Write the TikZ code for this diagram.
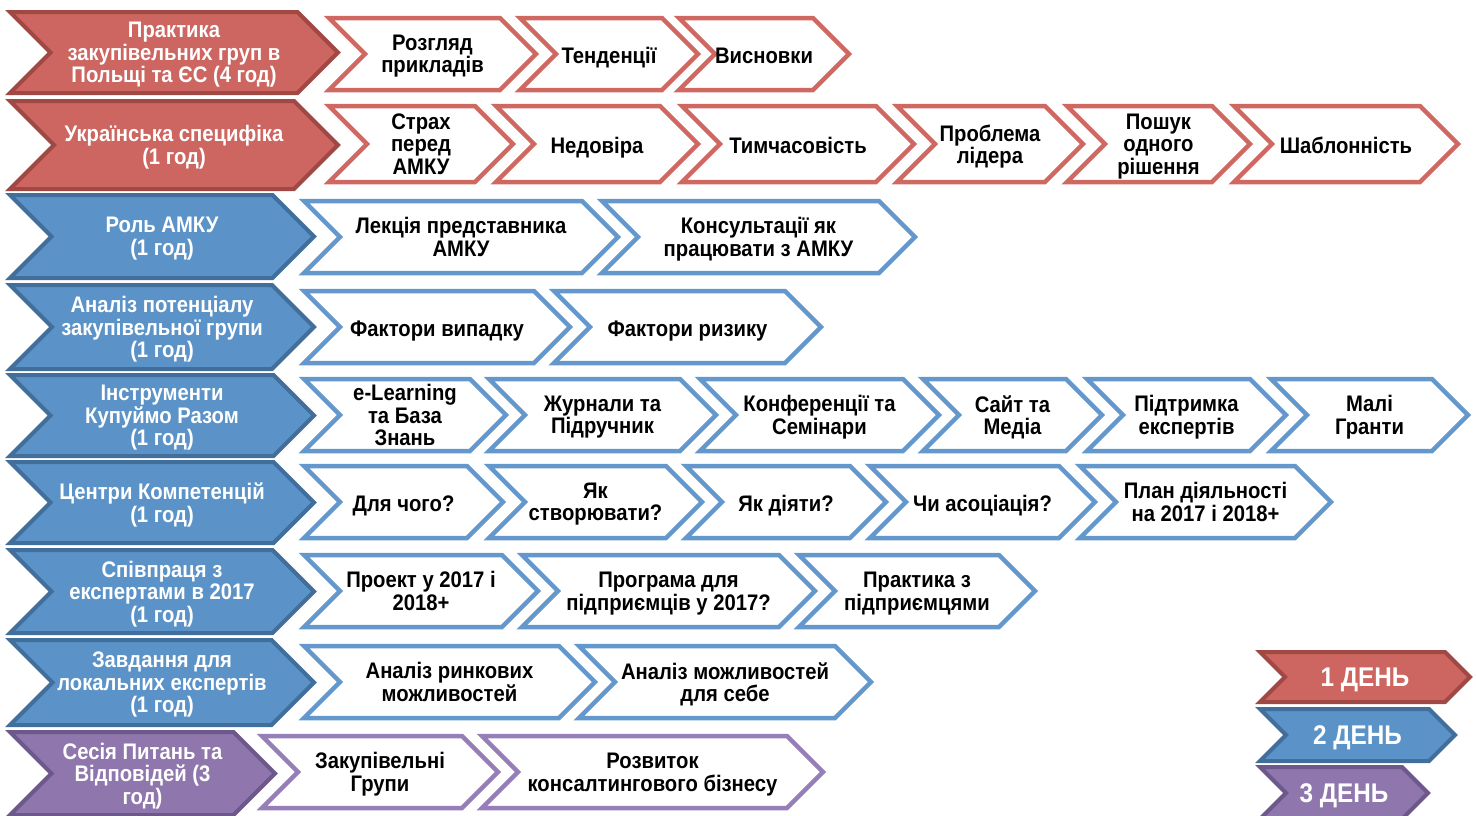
\documentclass[tikz,border=0pt]{standalone}
\usepackage{fontspec}
\setmainfont{Liberation Sans}[FakeStretch = 0.9]
\usepackage{tikz}
\usetikzlibrary{shapes.symbols}

\definecolor{redfill}{HTML}{CD6560}
\definecolor{redline}{HTML}{A04844}
\definecolor{redsub}{HTML}{D06862}
\definecolor{bluefill}{HTML}{5B93C8}
\definecolor{blueline}{HTML}{416E9B}
\definecolor{bluesub}{HTML}{6498CD}
\definecolor{purplefill}{HTML}{8F77AE}
\definecolor{purpleline}{HTML}{6C588A}
\definecolor{purplesub}{HTML}{967EB9}

\newcommand\chevfont{\bfseries\fontsize{22.5}{22.5}\selectfont\lineskiplimit -10pt\relax}

\begin{document}
\begin{tikzpicture} [x = 1pt, y = -1pt, font = \chevfont,
		chevron/.style = {signal, signal from = west, signal to = east, signal pointer angle = 90, align = center, inner sep = 0pt},
		topic/.style = {chevron, line width = 4pt, text = white, text depth = 0pt, execute at begin node = {\rule{0pt}{18pt}}},
		item/.style = {chevron, line width = 4.5pt, fill = white, text = black, minimum height = 72pt, text depth = 0pt, execute at begin node = {\rule{0pt}{18pt}}},
		red topic/.style = {topic, fill = redfill, draw = redline},
		blue topic/.style = {topic, fill = bluefill, draw = blueline},
		purple topic/.style = {topic, fill = purplefill, draw = purpleline},
		red item/.style = {item, draw = redsub},
		blue item/.style = {item, draw = bluesub},
		purple item/.style = {item, draw = purplesub},
		day/.style = {chevron, line width = 4pt, text = white, font = \bfseries\fontsize{27}{28}\selectfont, execute at begin node = {\rule{0pt}{25pt}}}]
		% Frame of the slide
		\clip (0,0) rectangle (1476,815);
		\useasboundingbox (0,0) rectangle (1476,815);

		% Day 1
		\node (m1) [red topic, minimum width = 328pt, minimum height = 81pt] at (174,52.5) {Практика\\закупівельних груп в\\Польщі та ЄС (4 год)};
		\node (s1a) [red item, minimum width = 207pt] at (432.5,54) {Розгляд\\прикладів};
		\node (s1b) [red item, minimum width = 178pt] at (609,54) {Тенденції};
		\node (s1c) [red item, minimum width = 168pt] at (764,54) {Висновки};

		\node (m2) [red topic, minimum width = 328pt, minimum height = 88pt] at (174,145) {Українська специфіка\\(1 год)};
		\node (s2a) [red item, minimum width = 184pt, minimum height = 76pt] at (421,144) {Страх\\перед\\АМКУ};
		\node (s2b) [red item, minimum width = 202pt, minimum height = 76pt] at (597,144) {Недовіра};
		\node (s2c) [red item, minimum width = 232pt, minimum height = 76pt] at (798,144) {Тимчасовість};
		\node (s2d) [red item, minimum width = 186pt, minimum height = 76pt] at (990,144) {Проблема\\лідера};
		\node (s2e) [red item, minimum width = 183pt, minimum height = 76pt] at (1158.5,144) {Пошук\\одного\\рішення};
		\node (s2f) [red item, minimum width = 224pt, minimum height = 76pt] at (1346,144) {Шаблонність};

		% Day 2
		\node (m3) [blue topic, minimum width = 304pt, minimum height = 83pt] at (162,236.5) {Роль АМКУ\\(1 год)};
		\node (s3a) [blue item, minimum width = 314pt] at (461,237) {Лекція представника\\АМКУ};
		\node (s3b) [blue item, minimum width = 313pt] at (758.5,237) {Консультації як\\працювати з АМКУ};

		\node (m4) [blue topic, minimum width = 304pt, minimum height = 84pt] at (162,327) {Аналіз потенціалу\\закупівельної групи\\(1 год)};
		\node (s4a) [blue item, minimum width = 266pt] at (437,327) {Фактори випадку};
		\node (s4b) [blue item, minimum width = 267pt] at (687.5,327) {Фактори ризику};

		\node (m5) [blue topic, minimum width = 304pt, minimum height = 81pt] at (162,415.5) {Інструменти\\Купуймо Разом\\(1 год)};
		\node (s5a) [blue item, minimum width = 202pt] at (405,415) {e-Learning\\та База\\Знань};
		\node (s5b) [blue item, minimum width = 227pt] at (602.5,415) {Журнали та\\Підручник};
		\node (s5c) [blue item, minimum width = 239pt] at (819.5,415) {Конференції та\\Семінари};
		\node (s5d) [blue item, minimum width = 179pt] at (1012.5,415) {Сайт та\\Медіа};
		\node (s5e) [blue item, minimum width = 199pt] at (1186.5,415) {Підтримка\\експертів};
		\node (s5f) [blue item, minimum width = 197pt] at (1369.5,415) {Малі\\Гранти};

		\node (m6) [blue topic, minimum width = 304pt, minimum height = 81pt] at (162,502.5) {Центри Компетенцій\\(1 год)};
		\node (s6a) [blue item, minimum width = 199pt] at (403.5,502) {Для чого?};
		\node (s6b) [blue item, minimum width = 213pt] at (595.5,502) {Як\\створювати?};
		\node (s6c) [blue item, minimum width = 200pt] at (786,502) {Як діяти?};
		\node (s6d) [blue item, minimum width = 225pt] at (982.5,502) {Чи асоціація?};
		\node (s6e) [blue item, minimum width = 251pt] at (1205.5,502) {План діяльності\\на 2017 і 2018+};

		\node (m7) [blue topic, minimum width = 304pt, minimum height = 83pt] at (162,591.5) {Співпраця з\\експертами в 2017\\(1 год)};
		\node (s7a) [blue item, minimum width = 234pt] at (421,591) {Проект у 2017 і\\2018+};
		\node (s7b) [blue item, minimum width = 293pt] at (668.5,591) {Програма для\\підприємців у 2017?};
		\node (s7c) [blue item, minimum width = 236pt] at (917,591) {Практика з\\підприємцями};

		\node (m8) [blue topic, minimum width = 304pt, minimum height = 85pt] at (162,682.5) {Завдання для\\локальних експертів\\(1 год)};
		\node (s8a) [blue item, minimum width = 291pt] at (449.5,682) {Аналіз ринкових\\можливостей};
		\node (s8b) [blue item, minimum width = 292pt] at (725,682) {Аналіз можливостей\\для себе};

		% Day 3
		\node (m9) [purple topic, minimum width = 265pt, minimum height = 83pt] at (142.5,773.5) {Сесія Питань та\\Відповідей (3\\год)};
		\node (s9a) [purple item, minimum width = 236pt] at (380,772) {Закупівельні\\Групи};
		\node (s9b) [purple item, minimum width = 341pt] at (652.5,772) {Розвиток\\консалтингового бізнесу};

		% Legend
		\node (day1) [day, fill = redfill, draw = redline, minimum width = 210pt, minimum height = 50pt] at (1365,677) {1 ДЕНЬ};
		\node (day2) [day, fill = bluefill, draw = blueline, minimum width = 195pt, minimum height = 52pt] at (1357.5,735) {2 ДЕНЬ};
		\node (day3) [day, fill = purplefill, draw = purpleline, minimum width = 168pt, minimum height = 52pt] at (1344,793) {3 ДЕНЬ};
	\end{tikzpicture}
\end{document}
